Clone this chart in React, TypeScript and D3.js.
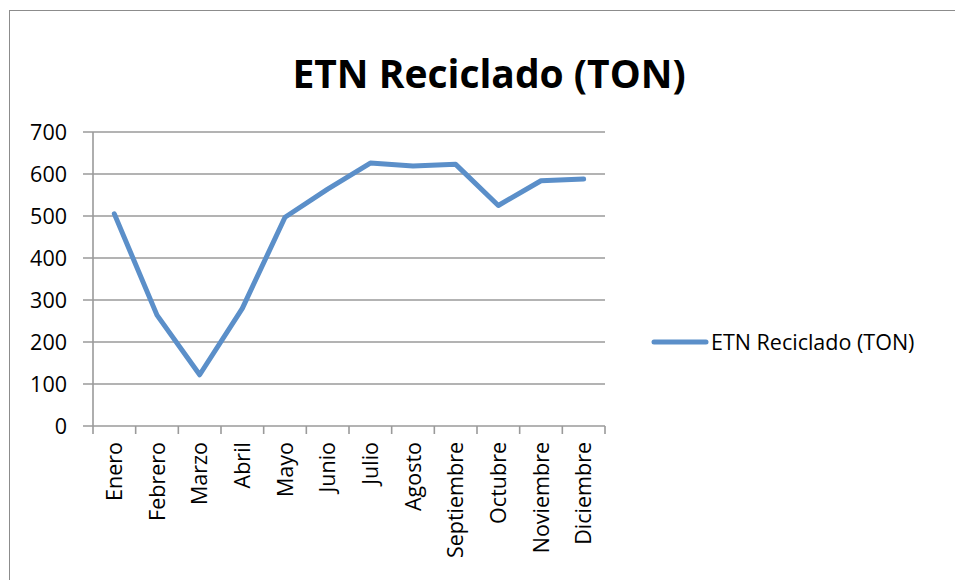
import React from 'react'
import * as d3 from 'd3'

const months = ['Enero', 'Febrero', 'Marzo', 'Abril', 'Mayo', 'Junio', 'Julio', 'Agosto', 'Septiembre', 'Octubre', 'Noviembre', 'Diciembre']
const reciclado = [505, 264, 122, 280, 497, 564, 626, 619, 623, 525, 584, 588]
const yTicks = [0, 100, 200, 300, 400, 500, 600, 700]
const seriesName = 'ETN Reciclado (TON)'

const width = 955
const height = 580
const margin = { top: 132, right: 350, bottom: 154, left: 93 }
const font = '"Open Sans", sans-serif'
const lineColor = '#5b8fc9'
const gridColor = '#9a9a9a'

export default function App() {
    const innerW = width - margin.left - margin.right
    const innerH = height - margin.top - margin.bottom

    const x = d3.scaleBand().domain(months).range([0, innerW])
    const y = d3.scaleLinear().domain([0, 700]).range([innerH, 0])

    const line = d3.line<number>()
        .x((d, i) => (x(months[i]) as number) + x.bandwidth() / 2)
        .y((d) => y(d))

    const edges = months.map((m) => x(m) as number).concat([innerW])

    return (
        <svg width={width} height={height} style={{ position: 'absolute', left: 0, top: 0, background: '#fff' }}>
            <rect x={9.5} y={10.5} width={1000} height={1000} fill="none" stroke="#8c8c8c" strokeWidth={1} />
            <text x={489} y={88} textAnchor="middle" fontFamily={font} fontWeight={700} fontSize={39} fill="#000">
                {seriesName}
            </text>
            <g transform={`translate(${margin.left},${margin.top})`}>
                {/* gridlines */}
                {yTicks.map((t) => (
                    <g key={t}>
                        <line x1={-10} x2={innerW} y1={y(t)} y2={y(t)} stroke={gridColor} strokeWidth={1.6} />
                        <text x={-26} y={y(t)} dy="0.36em" textAnchor="end" fontFamily={font} fontSize={21.5} fill="#000">{t}</text>
                    </g>
                ))}
                {/* y axis */}
                <line x1={0} x2={0} y1={0} y2={innerH} stroke={gridColor} strokeWidth={1.6} />
                {/* x ticks */}
                {edges.map((e, i) => (
                    <line key={i} x1={e} x2={e} y1={innerH} y2={innerH + 8} stroke={gridColor} strokeWidth={1.6} />
                ))}
                {months.map((m) => (
                    <text
                        key={m}
                        transform={`translate(${(x(m) as number) + x.bandwidth() / 2},${innerH + 16}) rotate(-90)`}
                        dy="0.36em"
                        textAnchor="end"
                        fontFamily={font}
                        fontSize={21.5}
                        fill="#000"
                    >
                        {m}
                    </text>
                ))}
                <path d={line(reciclado) as string} fill="none" stroke={lineColor} strokeWidth={5} strokeLinejoin="round" strokeLinecap="round" />
            </g>
            {/* legend */}
            <line x1={654} x2={706} y1={342} y2={342} stroke={lineColor} strokeWidth={5} strokeLinecap="round" />
            <text x={711} y={342} dy="0.36em" fontFamily={font} fontSize={21.5} fill="#000">{seriesName}</text>
        </svg>
    )
}
